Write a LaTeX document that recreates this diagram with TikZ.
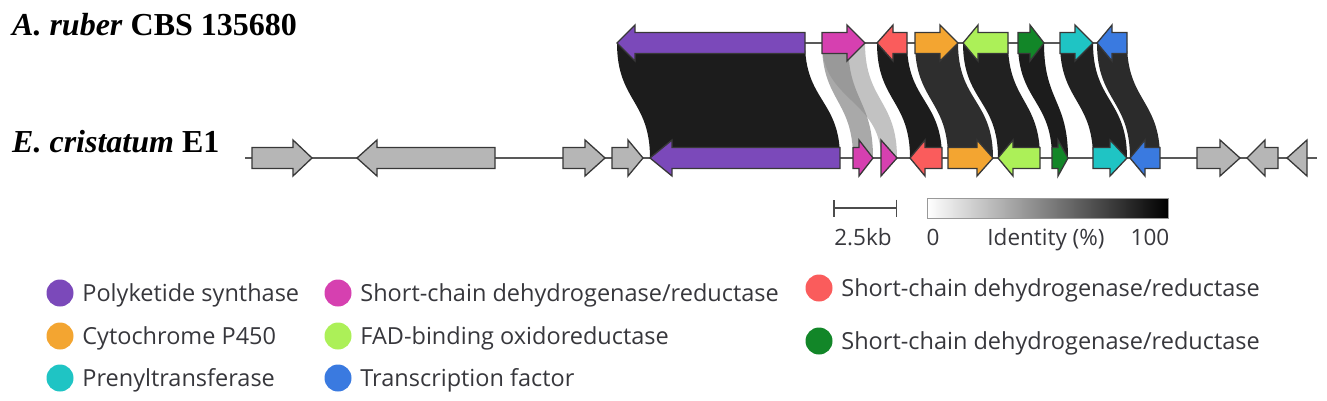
\documentclass[tikz,border=0pt]{standalone}
\usepackage{fontspec}
\setmainfont{Liberation Serif}
\newfontfamily\legfont{Open Sans}
\usepackage{tikz}
\usetikzlibrary{positioning, backgrounds, arrows.meta}

\definecolor{pksc}{RGB}{123,73,186}
\definecolor{sdrc}{RGB}{214,64,176}
\definecolor{redc}{RGB}{250,92,92}
\definecolor{p450c}{RGB}{243,165,49}
\definecolor{fadc}{RGB}{172,240,88}
\definecolor{dgrc}{RGB}{18,134,40}
\definecolor{ptc}{RGB}{31,196,196}
\definecolor{tfc}{RGB}{58,122,224}
\definecolor{othc}{RGB}{182,182,182}
\definecolor{legtc}{RGB}{55,55,60}

\newcommand{\gene}[6][18]{%
  \pgfmathsetmacro{\gdir}{sign(#4-#3)}
  \pgfmathsetmacro{\ghb}{#4-\gdir*min(#1,abs(#4-#3))}
  \pgfmathsetmacro{\gxl}{min(#3,#4)}
  \pgfmathsetmacro{\gxr}{max(#3,#4)}
  \draw[genebox,fill=#6] (#3,#5-10.5) -- (\ghb,#5-10.5) -- (\ghb,#5-18) -- (#4,#5)
    -- (\ghb,#5+18) -- (\ghb,#5+10.5) -- (#3,#5+10.5) -- cycle;
  \coordinate (#2-l) at (\gxl,#5);
  \coordinate (#2-r) at (\gxr,#5);
}
\newcommand{\synlink}[3]{%
  \fill[#3] (#1-l) .. controls +(0,58) and +(0,-58) .. (#2-l) -- (#2-r)
    .. controls +(0,-58) and +(0,58) .. (#1-r) -- cycle;
}

\begin{document}
\begin{tikzpicture}[x=1pt,y=-1pt]
		\tikzstyle{genebox} = [draw=black!78, line width=1.3, line join=miter]
		\tikzstyle{backbone} = [draw=black!65, line width=1.2]
		\tikzstyle{species} = [font=\bfseries\fontsize{32}{36}\selectfont, inner sep=0, anchor=base west]
		\tikzstyle{legdot} = [circle, minimum size=27, inner sep=0]
		\tikzstyle{legtext} = [font=\legfont\fontsize{23.5}{27}\selectfont, text=legtc, inner sep=0, text height=16.5, text depth=0]
		\tikzstyle{scaletext} = [font=\legfont\fontsize{22.5}{26}\selectfont, text=legtc, inner sep=0, text height=16, text depth=0]
		
		\useasboundingbox (0,0) rectangle (1327,400);
		
		\node [species] (sp1) at (12,35) {\textit{A. ruber} CBS 135680};
		\node [species] (sp2) at (12,152) {\textit{E. cristatum} E1};
		
		\coordinate (bbtop-a) at (617,43);
		\coordinate (bbtop-b) at (1127,43);
		\coordinate (bbbot-a) at (245,158);
		\coordinate (bbbot-b) at (1317,158);
		\draw [backbone] (bbtop-a) -- (bbtop-b);
		\draw [backbone] (bbbot-a) -- (bbbot-b);
		
		\gene{pks1}{805}{617}{43}{pksc}
		\gene{sdr1}{822}{865}{43}{sdrc}
		\gene[16]{red1}{907}{877}{43}{redc}
		\gene{p4501}{915}{958}{43}{p450c}
		\gene[15]{fad1}{1008}{963}{43}{fadc}
		\gene[14]{dgr1}{1018}{1044}{43}{dgrc}
		\gene{pt1}{1060}{1093}{43}{ptc}
		\gene[15]{tf1}{1127}{1097}{43}{tfc}
		
		\gene[19]{o1}{252}{312}{158}{othc}
		\gene[20]{o2}{495}{357}{158}{othc}
		\gene[20]{o3}{563}{605}{158}{othc}
		\gene[15]{o4}{612}{643}{158}{othc}
		\gene[22]{pks2}{840}{650}{158}{pksc}
		\gene[14]{sdr2}{853}{873}{158}{sdrc}
		\gene[16]{sdr3}{881}{897}{158}{sdrc}
		\gene[15]{red2}{942}{910}{158}{redc}
		\gene[16]{p4502}{948}{993}{158}{p450c}
		\gene[15]{fad2}{1040}{998}{158}{fadc}
		\gene[10]{dgr2}{1052}{1068}{158}{dgrc}
		\gene[17]{pt2}{1093}{1127}{158}{ptc}
		\gene[15]{tf2}{1160}{1130}{158}{tfc}
		\gene[20]{o5}{1197}{1240}{158}{othc}
		\gene[18]{o6}{1278}{1247}{158}{othc}
		\gene[20]{o7}{1307}{1287}{158}{othc}
		
		\coordinate (sdr1h-l) at (822,43);
		\coordinate (sdr1h-r) at (848,43);
		\begin{scope}[on background layer]
		\synlink{pks1}{pks2}{fill=black!89}
		\synlink{sdr1}{sdr3}{fill=black!24}
		\synlink{sdr1h}{sdr2}{fill=black!45, fill opacity=0.75}
		\synlink{red1}{red2}{fill=black!89}
		\synlink{p4501}{p4502}{fill=black!82}
		\synlink{fad1}{fad2}{fill=black!87}
		\synlink{dgr1}{dgr2}{fill=black!89}
		\synlink{pt1}{pt2}{fill=black!87}
		\synlink{tf1}{tf2}{fill=black!83}
		\end{scope}
		
		\coordinate (sb-l) at (833,208);
		\coordinate (sb-r) at (897,208);
		\draw [{Bar[width=17]}-{Bar[width=17]}, draw=black!70, line width=1.5] (sb-l) -- (sb-r);
		\node [scaletext] (sblab) at (863,237) {2.5kb};
		\node [draw=black!40, line width=1, minimum width=241, minimum height=20, inner sep=0,
		left color=white, right color=black] (idbar) at (1047.5,208) {};
		\node [scaletext] (id0) at (933,237) {0};
		\node [scaletext] (idlab) at (1046,237) {Identity (\%)};
		\node [scaletext] (id100) at (1150,237) {100};
		
		\node [legdot, fill=pksc] (d1) at (60,293) {};
		\node [legtext, right=8.5pt of d1] (t1) {Polyketide synthase};
		\node [legdot, fill=p450c] (d2) at (60,336) {};
		\node [legtext, right=8.5pt of d2] (t2) {Cytochrome P450};
		\node [legdot, fill=ptc] (d3) at (60,378) {};
		\node [legtext, right=8.5pt of d3] (t3) {Prenyltransferase};
		\node [legdot, fill=sdrc] (d4) at (338,293) {};
		\node [legtext, right=8.5pt of d4] (t4) {Short-chain dehydrogenase/reductase};
		\node [legdot, fill=fadc] (d5) at (338,336) {};
		\node [legtext, right=8.5pt of d5] (t5) {FAD-binding oxidoreductase};
		\node [legdot, fill=tfc] (d6) at (338,378) {};
		\node [legtext, right=8.5pt of d6] (t6) {Transcription factor};
		\node [legdot, fill=redc] (d7) at (819,288) {};
		\node [legtext, right=8.5pt of d7] (t7) {Short-chain dehydrogenase/reductase};
		\node [legdot, fill=dgrc] (d8) at (819,341) {};
		\node [legtext, right=8.5pt of d8] (t8) {Short-chain dehydrogenase/reductase};
		\end{tikzpicture}
\end{document}
